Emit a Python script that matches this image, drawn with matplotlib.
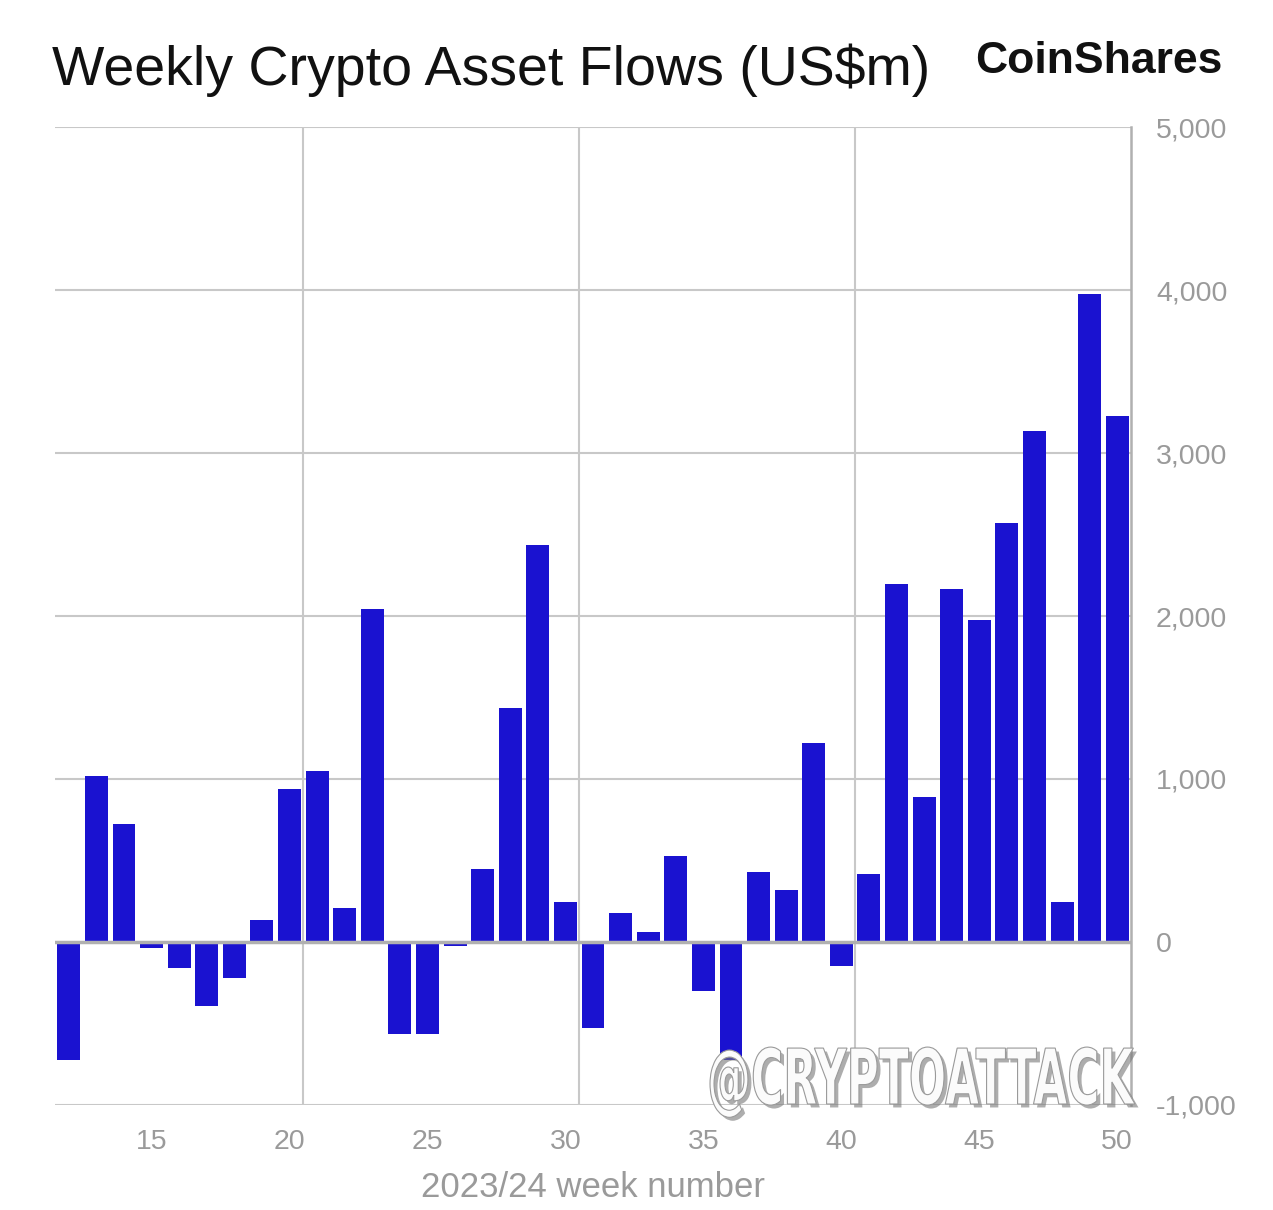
import matplotlib
matplotlib.use("Agg")
import matplotlib.pyplot as plt
import matplotlib.patheffects as pe
from matplotlib.ticker import FuncFormatter
from matplotlib.textpath import TextPath
from matplotlib.patches import PathPatch
from matplotlib.font_manager import FontProperties
from matplotlib.transforms import Affine2D

# weekly flows, US$m
weeks = list(range(12, 51))
flows = [-724, 1018, 724, -37, -160, -393, -221, 135, 939, 1049,
         209, 2043, -564, -564, -25, 448, 1436, 2436, 245, -528,
         178, 61, 528, -301, -722, 429, 319, 1221, -147, 417,
         2196, 890, 2166, 1975, 2571, 3135, 245, 3975, 3227]

x_ticks = [15, 20, 25, 30, 35, 40, 45, 50]
y_ticks = [-1000, 0, 1000, 2000, 3000, 4000, 5000]
section_lines = [20.5, 30.5, 40.5]

bar_color = "#1a12d0"
grid_color = "#c8c8c8"
label_color = "#9a9a9a"

plt.rcParams["font.family"] = ["Liberation Sans", "DejaVu Sans"]

W, H = 1273, 1210
fig = plt.figure(figsize=(W / 100, H / 100), dpi=100)
ax = fig.add_axes([0.0432, 0.0868, 0.8453, 0.8082])

ax.bar(weeks, flows, width=0.83, color=bar_color, zorder=3)

ax.set_xlim(11.5, 50.5)
ax.set_ylim(-1000, 5000)

# gridlines
for y in y_ticks:
    ax.axhline(y, color=grid_color if y != 0 else "#b0b0b0",
               lw=1.5 if y != 0 else 2.5, zorder=1 if y != 0 else 4)
for xv in section_lines:
    ax.axvline(xv, color=grid_color, lw=1.5, zorder=1)

for s in ["top", "left", "bottom"]:
    ax.spines[s].set_visible(False)
ax.spines["right"].set_color("#b0b0b0")
ax.spines["right"].set_linewidth(1.8)

ax.set_xticks(x_ticks)
ax.set_yticks(y_ticks)
ax.yaxis.tick_right()
ax.yaxis.set_major_formatter(FuncFormatter(lambda v, p: f"{int(v):,}"))
ax.tick_params(axis="both", length=0, colors=label_color, labelsize=20.5)
ax.tick_params(axis="x", pad=17)
ax.tick_params(axis="y", pad=18)
ax.set_xlabel("2023/24 week number", color=label_color, fontsize=25, labelpad=12)

fig.text(0.041, 0.942, "Weekly Crypto Asset Flows (US$m)", fontsize=40,
         color="#111111", ha="left", va="center")
fig.text(0.96, 0.949, "CoinShares", fontsize=32, fontweight="bold",
         color="#111111", ha="right", va="center")

# watermark, squeezed horizontally to look condensed
tp = TextPath((0, 0), "@CRYPTOATTACK", size=1,
              prop=FontProperties(family="DejaVu Sans", weight="bold"))
ext = tp.get_extents()
box_w, box_h = 425, 56           # pixels
x0, y0 = 710, H - 1104           # left, baseline in pixels from bottom
sx = box_w / ext.width
sy = box_h / 0.73
tr = Affine2D().translate(-ext.x0, 0).scale(sx / W, sy / H).translate(x0 / W, y0 / H) + fig.transFigure
wm = PathPatch(tp, transform=tr, facecolor="#fbfbfb", edgecolor="#9a9a9a", lw=0.8, zorder=10,
               path_effects=[pe.SimplePatchShadow(offset=(2.5, -2.5), shadow_rgbFace="#777777", alpha=0.6),
                             pe.Normal()])
fig.add_artist(wm)

fig.savefig("out.png", dpi=100)
